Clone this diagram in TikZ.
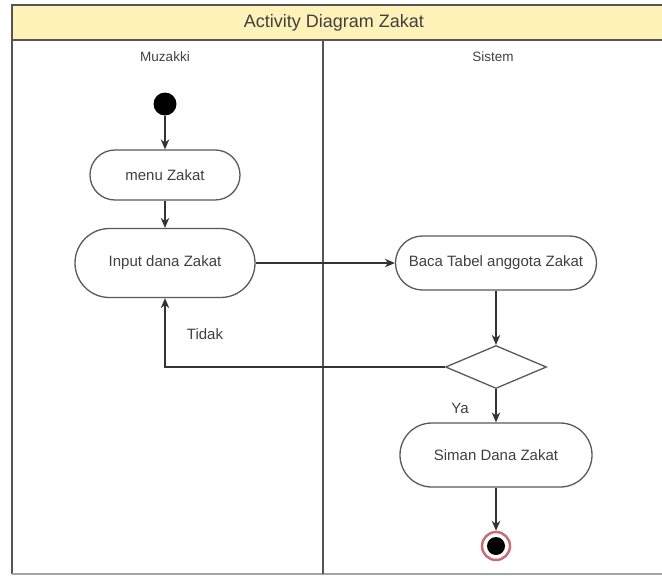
\documentclass[tikz,border=0pt]{standalone}
\usepackage{fontspec}
\setmainfont{Liberation Sans}
\usetikzlibrary{shapes.geometric,arrows.meta}
\definecolor{titlefill}{HTML}{FFF2B8}
\definecolor{frameline}{HTML}{555555}
\definecolor{endring}{HTML}{B03040}
\begin{document}
\begin{tikzpicture}[x=1pt,y=-1pt,
  txt/.style={font=\fontsize{15}{17}\selectfont, text=black!75},
  action/.style={draw=black!65, line width=1.3pt, fill=white, txt, inner sep=0pt},
  decision/.style={draw=black!65, line width=1.3pt, diamond, aspect=2.35, minimum width=101pt, minimum height=43pt, inner sep=0pt, fill=white},
  flow/.style={draw=black!80, line width=1.3pt, -{Stealth[length=10pt,width=8.5pt]}},
  lane/.style={draw=frameline, line width=1.4pt}]
\useasboundingbox (0,0) rectangle (662,576);
% frame and title band
\fill[titlefill] (12,5) rectangle (662,40);
\draw[lane] (662,5) -- (12,5) -- (12,574);
\draw[lane] (12,40) -- (662,40);
\draw[draw=black!35, line width=1.2pt] (12,574) -- (662,574);
\draw[lane] (323,40) -- (323,574);
\node[txt, font=\fontsize{18}{20}\selectfont] (title) at (334,23) {Activity Diagram Zakat};
\node[txt, font=\fontsize{13.5}{15}\selectfont] (lane1) at (165,57) {Muzakki};
\node[txt, font=\fontsize{13.5}{15}\selectfont] (lane2) at (493,57) {Sistem};
% activity nodes
\node[circle, fill=black, minimum size=23pt, inner sep=0pt] (start) at (165,104) {};
\node[action, minimum width=150pt, minimum height=50pt, rounded corners=24.9pt] (menu) at (165,175) {menu Zakat};
\node[action, minimum width=180pt, minimum height=69pt, rounded corners=34.4pt] (input) at (165,263) {Input dana Zakat};
\node[action, minimum width=201pt, minimum height=54pt, rounded corners=26.9pt] (baca) at (496,263) {Baca Tabel anggota Zakat};
\node[decision] (dec) at (496,367) {};
\node[action, minimum width=192pt, minimum height=64pt, rounded corners=31.9pt] (simpan) at (496,455) {Siman Dana Zakat};
\node[circle, draw=endring!70, line width=2.5pt, fill=white, minimum size=28pt, inner sep=0pt] (stopring) at (496,546) {};
\node[circle, fill=black, minimum size=18pt, inner sep=0pt] (stop) at (496,546) {};
% flows
\draw[flow] (start) -- (menu);
\draw[flow] (menu) -- (input);
\draw[flow] (input) -- (baca);
\draw[flow] (baca) -- (dec);
\draw[flow] (dec.west) -| (input.south);
\draw[flow] (dec) -- (simpan);
\draw[flow] (simpan) -- (stopring);
\node[txt] (tidak) at (205,334) {Tidak};
\node[txt] (ya) at (460,408) {Ya};
\end{tikzpicture}
\end{document}
